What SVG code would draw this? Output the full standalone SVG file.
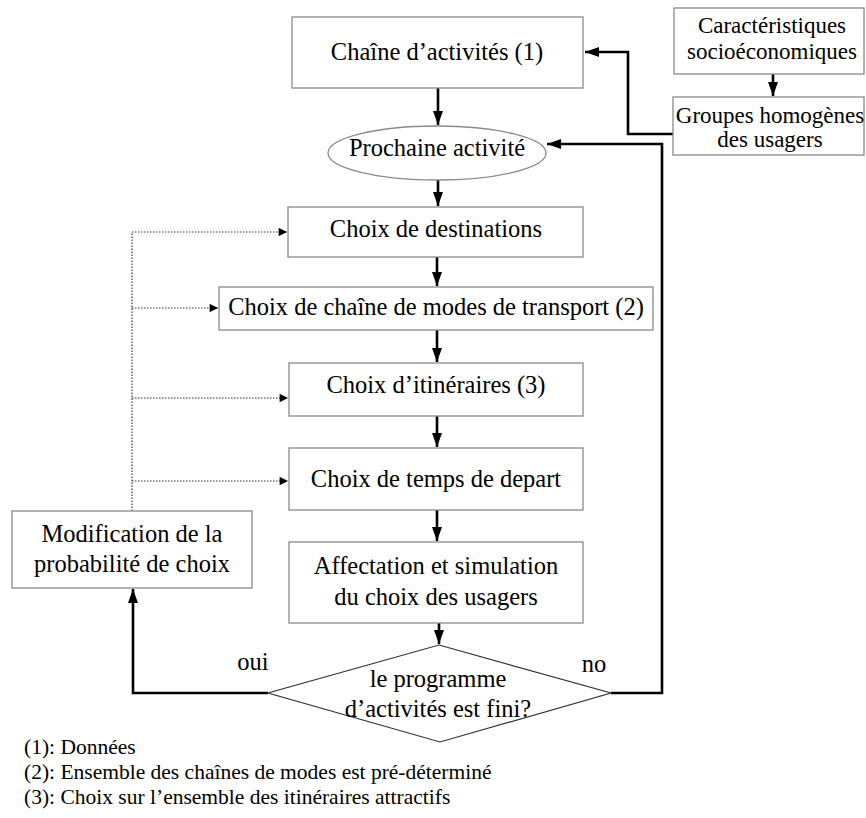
<svg xmlns="http://www.w3.org/2000/svg" width="866" height="818" viewBox="0 0 866 818" font-family="Liberation Serif, DejaVu Serif, serif">
<style>
text{font-family:'Liberation Serif','Times New Roman',serif;fill:#000}
.t{font-size:24.5px;text-anchor:middle}
.s{font-size:23px;text-anchor:middle}
.n{font-size:21.5px}
.box{fill:#fff;stroke:#8a8a8a;stroke-width:1.3}
.dia{fill:#fff;stroke:#333;stroke-width:1.2}
.c{fill:none;stroke:#000;stroke-width:2.6}
.d{fill:none;stroke:#333;stroke-width:1.2;stroke-dasharray:1.5,1.5}
</style>
<defs>
<marker id="a" viewBox="0 0 14 10" refX="14" refY="5" markerWidth="5.4" markerHeight="3.9" orient="auto" markerUnits="strokeWidth"><path d="M0,0L14,5L0,10Z" fill="#000"/></marker>
<marker id="ad" viewBox="0 0 10 10" refX="10" refY="5" markerWidth="7.5" markerHeight="7" orient="auto" markerUnits="strokeWidth"><path d="M0,0L10,5L0,10Z" fill="#000"/></marker>
</defs>
<g id="connectors">
<path class="c" d="M438,88V125" marker-end="url(#a)"/>
<path class="c" d="M438,180V206" marker-end="url(#a)"/>
<path class="c" d="M437,257V286" marker-end="url(#a)"/>
<path class="c" d="M437,330V362" marker-end="url(#a)"/>
<path class="c" d="M437,416V447" marker-end="url(#a)"/>
<path class="c" d="M437,510V541" marker-end="url(#a)"/>
<path class="c" d="M439,623V644" marker-end="url(#a)"/>
<path class="c" d="M773,74V96" marker-end="url(#a)"/>
<path class="c" d="M673,134H628V52H585" marker-end="url(#a)"/>
<path class="c" d="M611,693H662V144H547" marker-end="url(#a)"/>
<path class="c" d="M268,693H133V589" marker-end="url(#a)"/>
<path class="d" d="M132,511V232"/>
<path class="d" d="M132,232H287" marker-end="url(#ad)"/>
<path class="d" d="M132,308H218" marker-end="url(#ad)"/>
<path class="d" d="M132,398H288" marker-end="url(#ad)"/>
<path class="d" d="M132,481H288" marker-end="url(#ad)"/>
</g>
<g id="chaine"><rect class="box" x="292" y="17" width="291" height="71"/><text class="t" x="437" y="60">Chaîne d’activités (1)</text></g>
<g id="caract"><rect class="box" x="674" y="8" width="190" height="66"/><text class="s" x="772" y="33">Caractéristiques</text><text class="s" x="772" y="59">socioéconomiques</text></g>
<g id="groupes"><rect class="box" x="673" y="97" width="191" height="58"/><text class="s" x="770" y="123">Groupes homogènes</text><text class="s" x="770" y="147">des usagers</text></g>
<g id="prochaine"><ellipse class="box" cx="437" cy="153" rx="109" ry="27"/><text class="t" x="437" y="156">Prochaine activité</text></g>
<g id="destinations"><rect class="box" x="288" y="207" width="295" height="50"/><text class="t" x="436" y="237">Choix de destinations</text></g>
<g id="modes"><rect class="box" x="219" y="287" width="434" height="43"/><text class="t" x="436" y="315">Choix de chaîne de modes de transport (2)</text></g>
<g id="itineraires"><rect class="box" x="289" y="363" width="294" height="53"/><text class="t" x="436" y="393">Choix d’itinéraires (3)</text></g>
<g id="temps"><rect class="box" x="289" y="448" width="294" height="62"/><text class="t" x="436" y="487">Choix de temps de depart</text></g>
<g id="affectation"><rect class="box" x="289" y="542" width="294" height="81"/><text class="t" x="436" y="574">Affectation et simulation</text><text class="t" x="436" y="605">du choix des usagers</text></g>
<g id="modification"><rect class="box" x="12" y="511" width="240" height="77"/><text class="t" x="132" y="542">Modification de la</text><text class="t" x="132" y="572">probabilité de choix</text></g>
<g id="decision"><polygon class="dia" points="439,645 611,693 440,742 268,693"/><text class="t" x="438" y="687">le programme</text><text class="t" x="438" y="717">d’activités est fini?</text></g>
<g id="labels"><text class="t" x="253" y="670">oui</text><text class="t" x="594" y="672">no</text></g>
<g id="notes"><text class="n" x="24" y="754">(1): Données</text><text class="n" x="24" y="779">(2): Ensemble des chaînes de modes est pré-déterminé</text><text class="n" x="24" y="804">(3): Choix sur l’ensemble des itinéraires attractifs</text></g>
</svg>
